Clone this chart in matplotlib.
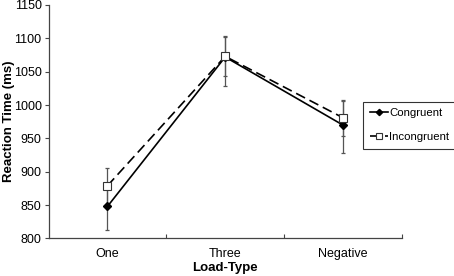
import matplotlib
matplotlib.use("Agg")
import matplotlib.pyplot as plt
import numpy as np

# data
categories = ["One", "Three", "Negative"]
congruent = [848, 1072, 970]
incongruent = [879, 1073, 981]
cong_err_low = [35, 44, 42]
cong_err_high = [35, 30, 36]
incong_err_low = [27, 30, 27]
incong_err_high = [27, 31, 27]

plt.rcParams["font.family"] = ["Liberation Sans", "DejaVu Sans"]

fig = plt.figure(figsize=(4.54, 2.76), dpi=100)
ax = fig.add_axes([0.107, 0.136, 0.778, 0.846])

x = np.arange(len(categories))

ax.errorbar(x, congruent, yerr=[cong_err_low, cong_err_high], fmt="none",
            ecolor="#555555", elinewidth=0.9, capsize=1.5, capthick=0.9, zorder=2)
ax.errorbar(x, incongruent, yerr=[incong_err_low, incong_err_high], fmt="none",
            ecolor="#555555", elinewidth=0.9, capsize=1.5, capthick=0.9, zorder=2)

ax.plot(x, congruent, color="black", lw=1.2, marker="D", markersize=4,
        markerfacecolor="black", markeredgecolor="black", label="Congruent", zorder=3)
ax.plot(x, incongruent, color="black", lw=1.2, dashes=(6, 3), marker="s",
        markersize=6, markerfacecolor="white", markeredgecolor="#333333",
        markeredgewidth=0.8, label="Incongruent", zorder=4)

ax.set_xlim(-0.5, 2.5)
ax.set_ylim(800, 1150)
ax.set_yticks(np.arange(800, 1151, 50))
ax.set_xticks(x)
ax.set_xticklabels(categories)
ax.set_xticks([0.5, 1.5, 2.5], minor=True)
ax.tick_params(axis="x", which="major", length=0, labelsize=9, pad=7)
ax.tick_params(axis="x", which="minor", length=3, width=0.8, direction="in", color="#444444")
ax.tick_params(axis="y", length=3, width=0.8, color="#444444", labelsize=9, pad=2)

for s in ["top", "right"]:
    ax.spines[s].set_visible(False)
for s in ["left", "bottom"]:
    ax.spines[s].set_color("#444444")
    ax.spines[s].set_linewidth(0.9)

ax.set_xlabel("Load-Type", fontsize=9.5, fontweight="bold", labelpad=1)
ax.set_ylabel("Reaction Time (ms)", fontsize=9.5, fontweight="bold")
ax.yaxis.set_label_coords(-0.096, 0.5)

leg = fig.legend(loc="upper left", bbox_to_anchor=(0.799, 0.632), fontsize=8.2,
                 frameon=True, fancybox=False, handlelength=1.6, handletextpad=0.1,
                 labelspacing=1.2, borderpad=0.6, borderaxespad=0, markerscale=0.8)
leg.get_frame().set_edgecolor("black")
leg.get_frame().set_linewidth(0.8)

fig.savefig("out.png", dpi=100)
